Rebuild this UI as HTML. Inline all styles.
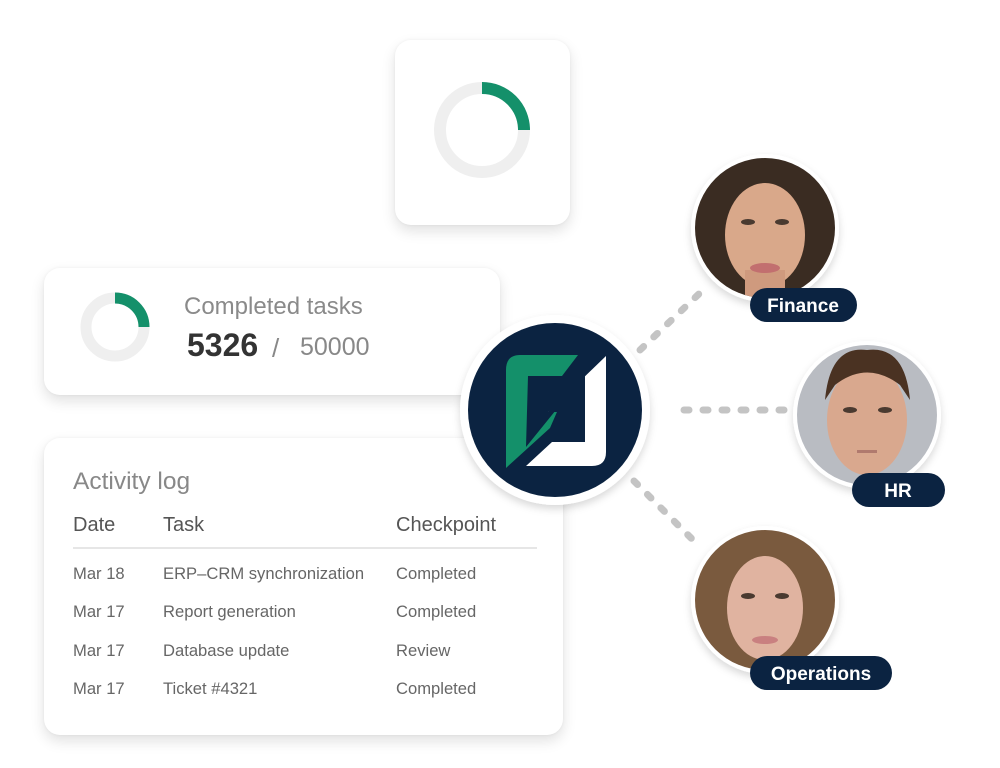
<!DOCTYPE html>
<html><head><meta charset="utf-8"><style>
html,body{margin:0;padding:0;background:#fff;}
body{width:1000px;height:768px;overflow:hidden;position:relative;font-family:"Liberation Sans",sans-serif;}
.card{position:absolute;background:#fff;border-radius:16px;box-shadow:0 6px 14px rgba(0,0,0,0.12),0 0 3px rgba(0,0,0,0.05);}
.t{position:absolute;white-space:nowrap;}
</style></head><body>
<div class="card" style="left:395px;top:40px;width:175px;height:185px;"></div>
<div class="card" style="left:44px;top:268px;width:456px;height:127px;"></div>
<div class="card" style="left:44px;top:438px;width:519px;height:297px;"></div>

<svg width="1000" height="768" style="position:absolute;left:0;top:0">
 <defs>
  <filter id="sh" x="-20%" y="-20%" width="140%" height="140%"><feDropShadow dx="0" dy="4" stdDeviation="4" flood-color="#000" flood-opacity="0.15"/></filter>
  <clipPath id="c1"><circle cx="765" cy="228" r="70"/></clipPath>
  <clipPath id="c2"><circle cx="867" cy="415" r="70"/></clipPath>
  <clipPath id="c3"><circle cx="765" cy="600" r="70"/></clipPath>
 </defs>
 <circle cx="482" cy="130" r="42" fill="none" stroke="#efefef" stroke-width="12"/>
 <path d="M482 88 A42 42 0 0 1 524 130" fill="none" stroke="#14906a" stroke-width="12"/>
 <circle cx="115" cy="327" r="29" fill="none" stroke="#efefef" stroke-width="11"/>
 <path d="M115 298 A29 29 0 0 1 144 327" fill="none" stroke="#14906a" stroke-width="11"/>
 <line x1="73" y1="548" x2="537" y2="548" stroke="#e6e6e6" stroke-width="2"/>
 <g stroke="#c4c4c4" stroke-width="7" stroke-linecap="round" stroke-dasharray="5 14" fill="none">
  <line x1="640" y1="350" x2="702" y2="291"/>
  <line x1="684" y1="410" x2="790" y2="410"/>
  <line x1="634" y1="481" x2="698" y2="545"/>
 </g>
 <circle cx="555" cy="410" r="95" fill="#fff" filter="url(#sh)"/>
 <circle cx="555" cy="410" r="87" fill="#0b2341"/>
 <path d="M520 355 L578 355 L562 376 L528 376 L526 447 L560 405 L550 428 L506 468 L506 370 Q506 355 520 355Z" fill="#14906a"/>
 <path d="M606 356 L606 452 Q606 466 592 466 L526 466 L552 442 L585 442 L585 400 L570 400 L548 412 Z" fill="#fff"/>
 <path d="M548 412 L580 372 L585 372 L585 412 Z" fill="#0b2341"/>
 <g filter="url(#sh)">
  <circle cx="765" cy="228" r="74" fill="#fff"/>
  <circle cx="867" cy="415" r="74" fill="#fff"/>
  <circle cx="765" cy="600" r="74" fill="#fff"/>
 </g>
 <g clip-path="url(#c1)">
  <rect x="690" y="155" width="150" height="150" fill="#3a2c22"/>
  <ellipse cx="765" cy="235" rx="40" ry="52" fill="#d9a88a"/>
  <rect x="745" y="270" width="40" height="40" fill="#cf9a7e"/>
  <ellipse cx="748" cy="222" rx="7" ry="3" fill="#4a3a30"/><ellipse cx="782" cy="222" rx="7" ry="3" fill="#4a3a30"/>
  <ellipse cx="765" cy="268" rx="15" ry="5" fill="#c26f6f"/>
 </g>
 <g clip-path="url(#c2)">
  <rect x="795" y="343" width="145" height="145" fill="#b9bcc2"/>
  <ellipse cx="867" cy="420" rx="40" ry="55" fill="#d9a88e"/>
  <path d="M825 400 Q830 345 867 350 Q905 345 910 400 L900 385 Q867 360 835 385Z" fill="#4a3222"/>
  <ellipse cx="850" cy="410" rx="7" ry="3" fill="#4a3a30"/><ellipse cx="885" cy="410" rx="7" ry="3" fill="#4a3a30"/>
  <rect x="857" y="450" width="20" height="3" fill="#b07a6e"/>
 </g>
 <g clip-path="url(#c3)">
  <rect x="693" y="528" width="145" height="145" fill="#7a5a3e"/>
  <ellipse cx="765" cy="608" rx="38" ry="52" fill="#e0b3a0"/>
  <ellipse cx="748" cy="596" rx="7" ry="3" fill="#4a3a30"/><ellipse cx="782" cy="596" rx="7" ry="3" fill="#4a3a30"/>
  <ellipse cx="765" cy="640" rx="13" ry="4" fill="#c98080"/>
 </g>
 <rect x="750" y="288" width="107" height="34" rx="17" fill="#0b2341"/>
 <rect x="852" y="473" width="93" height="34" rx="17" fill="#0b2341"/>
 <rect x="750" y="656" width="142" height="34" rx="17" fill="#0b2341"/>
 <g fill="#fff" font-family="Liberation Sans, sans-serif" font-size="19" font-weight="bold" text-anchor="middle">
  <text x="803" y="312">Finance</text>
  <text x="898" y="497">HR</text>
  <text x="821" y="680">Operations</text>
 </g>
</svg>

<div class="t" style="left:184px;top:293px;font-size:24px;color:#8a8a8a;">Completed tasks</div>
<div class="t" style="left:187px;top:327px;font-size:32px;font-weight:bold;color:#333;">5326</div>
<div class="t" style="left:272px;top:333px;font-size:26px;color:#888;">/</div>
<div class="t" style="left:300px;top:333px;font-size:25px;color:#888;">50000</div>

<div class="t" style="left:73px;top:468px;font-size:24.5px;color:#888;">Activity log</div>
<div class="t" style="left:73px;top:514px;font-size:20px;color:#555;">Date</div>
<div class="t" style="left:163px;top:514px;font-size:20px;color:#555;">Task</div>
<div class="t" style="left:396px;top:514px;font-size:20px;color:#555;">Checkpoint</div>
<div style="position:absolute;left:73px;top:555px;font-size:16.6px;color:#666;line-height:38.3px;">
 <div style="position:relative;height:38.3px"><span class="t" style="left:0">Mar 18</span><span class="t" style="left:90px">ERP–CRM synchronization</span><span class="t" style="left:323px">Completed</span></div>
 <div style="position:relative;height:38.3px"><span class="t" style="left:0">Mar 17</span><span class="t" style="left:90px">Report generation</span><span class="t" style="left:323px">Completed</span></div>
 <div style="position:relative;height:38.3px"><span class="t" style="left:0">Mar 17</span><span class="t" style="left:90px">Database update</span><span class="t" style="left:323px">Review</span></div>
 <div style="position:relative;height:38.3px"><span class="t" style="left:0">Mar 17</span><span class="t" style="left:90px">Ticket #4321</span><span class="t" style="left:323px">Completed</span></div>
</div>
</body></html>
